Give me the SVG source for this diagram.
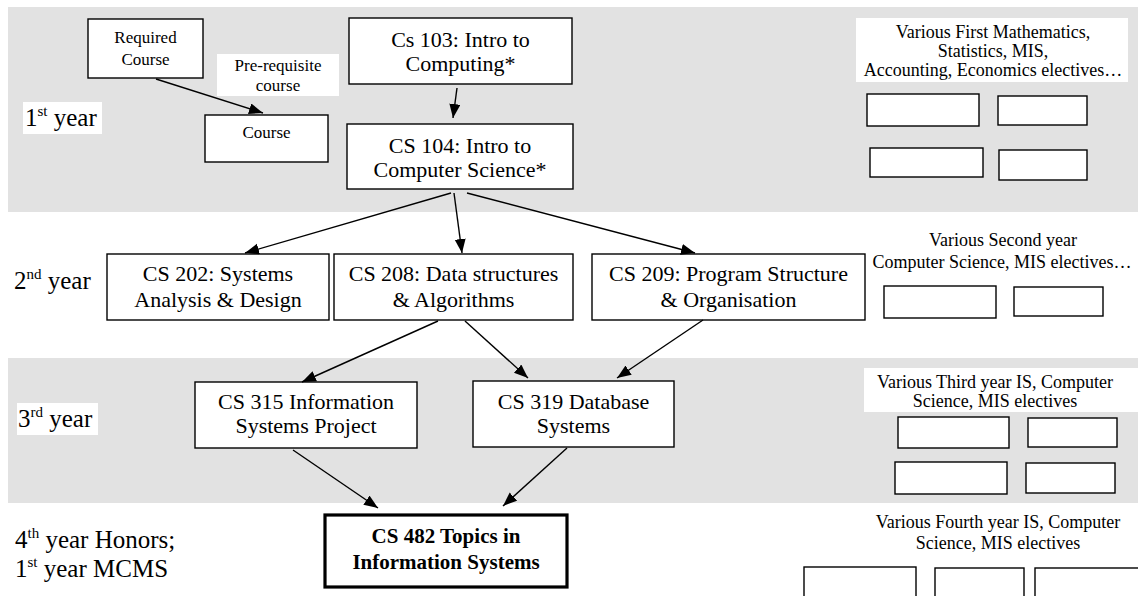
<svg xmlns="http://www.w3.org/2000/svg" width="1138" height="596" viewBox="0 0 1138 596">
<defs>
<style>
.band{fill:#e2e2e2}
.wbg{fill:#fff}
.box{fill:#fff;stroke:#000;stroke-width:1.4}
.thick{fill:#fff;stroke:#000;stroke-width:3.2}
.t{font-family:"Liberation Serif","Times New Roman",serif;fill:#000}
.n{font-size:22px;text-anchor:middle}
.s{font-size:17px;text-anchor:middle}
.h{font-size:18px;text-anchor:middle}
.b{font-size:21px;font-weight:bold;text-anchor:middle}
.y{font-size:25px}
.sup{font-size:15px}
.c{stroke:#000;stroke-width:1.4;fill:none;marker-end:url(#ah)}
</style>
<marker id="ah" markerUnits="userSpaceOnUse" markerWidth="16" markerHeight="12" refX="14" refY="5.5" orient="auto">
<path d="M0,0 L14,5.5 L0,11 z" fill="#000"/>
</marker>
</defs>

<g id="bands">
<rect class="band" x="8" y="7" width="1130" height="205"/>
<rect class="band" x="8" y="358" width="1130" height="145"/>
</g>

<g id="year-labels">
<rect class="wbg" x="23" y="102" width="79" height="32"/>
<text class="t y" x="25" y="126">1<tspan class="sup" dy="-10">st</tspan><tspan dy="10"> year</tspan></text>
<text class="t y" x="14" y="289">2<tspan class="sup" dy="-10">nd</tspan><tspan dy="10"> year</tspan></text>
<rect class="wbg" x="17" y="403" width="81" height="32"/>
<text class="t y" x="18" y="427">3<tspan class="sup" dy="-10">rd</tspan><tspan dy="10"> year</tspan></text>
<text class="t y" x="15" y="548">4<tspan class="sup" dy="-10">th</tspan><tspan dy="10"> year Honors;</tspan></text>
<text class="t y" x="15" y="577">1<tspan class="sup" dy="-10">st</tspan><tspan dy="10"> year MCMS</tspan></text>
</g>

<g id="legend-required">
<rect class="box" x="88" y="19" width="115" height="59"/>
<text class="t s" x="145.5" y="43">Required</text>
<text class="t s" x="145.5" y="65">Course</text>
</g>
<g id="legend-prereq-label">
<rect class="wbg" x="217" y="54" width="122" height="42"/>
<text class="t s" x="278" y="71">Pre-requisite</text>
<text class="t s" x="278" y="91">course</text>
</g>
<g id="legend-course">
<rect class="box" x="205" y="115" width="123" height="47"/>
<text class="t s" x="266.5" y="138">Course</text>
</g>

<g id="cs103">
<rect class="box" x="349" y="18" width="223" height="66"/>
<text class="t n" x="460.5" y="47">Cs 103: Intro to</text>
<text class="t n" x="460.5" y="71">Computing*</text>
</g>
<g id="cs104">
<rect class="box" x="347" y="124" width="226" height="65"/>
<text class="t n" x="460" y="153">CS 104: Intro to</text>
<text class="t n" x="460" y="177">Computer Science*</text>
</g>

<g id="cs202">
<rect class="box" x="107" y="254" width="222" height="66"/>
<text class="t n" x="218" y="281">CS 202: Systems</text>
<text class="t n" x="218" y="307">Analysis &amp; Design</text>
</g>
<g id="cs208">
<rect class="box" x="334" y="254" width="239" height="66"/>
<text class="t n" x="453.5" y="281">CS 208: Data structures</text>
<text class="t n" x="453.5" y="307">&amp; Algorithms</text>
</g>
<g id="cs209">
<rect class="box" x="592" y="254" width="273" height="66"/>
<text class="t n" x="728.5" y="281">CS 209: Program Structure</text>
<text class="t n" x="728.5" y="307">&amp; Organisation</text>
</g>

<g id="cs315">
<rect class="box" x="195" y="382" width="222" height="66"/>
<text class="t n" x="306" y="409">CS 315 Information</text>
<text class="t n" x="306" y="433">Systems Project</text>
</g>
<g id="cs319">
<rect class="box" x="473" y="381" width="201" height="66"/>
<text class="t n" x="573.5" y="409">CS 319 Database</text>
<text class="t n" x="573.5" y="433">Systems</text>
</g>

<g id="cs482">
<rect class="thick" x="325" y="515" width="242" height="72"/>
<text class="t b" x="446" y="543">CS 482 Topics in</text>
<text class="t b" x="446" y="569">Information Systems</text>
</g>

<g id="electives-1">
<rect class="wbg" x="856" y="18" width="272" height="64"/>
<text class="t h" x="993" y="38">Various First Mathematics,</text>
<text class="t h" x="993" y="57">Statistics, MIS,</text>
<text class="t h" x="993" y="76">Accounting, Economics electives…</text>
<rect class="box" x="867" y="94" width="112" height="32"/>
<rect class="box" x="998" y="96" width="89" height="29"/>
<rect class="box" x="870" y="148" width="113" height="29"/>
<rect class="box" x="999" y="150" width="88" height="30"/>
</g>

<g id="electives-2">
<text class="t h" x="1003" y="246">Various Second year</text>
<text class="t h" x="1002" y="268">Computer Science, MIS electives…</text>
<rect class="box" x="884" y="286" width="112" height="32"/>
<rect class="box" x="1014" y="287" width="89" height="29"/>
</g>

<g id="electives-3">
<rect class="wbg" x="864" y="368" width="274" height="44"/>
<text class="t h" x="995" y="388">Various Third year IS, Computer</text>
<text class="t h" x="995" y="407">Science, MIS electives</text>
<rect class="box" x="898" y="417" width="111" height="31"/>
<rect class="box" x="1028" y="418" width="89" height="29"/>
<rect class="box" x="895" y="462" width="112" height="32"/>
<rect class="box" x="1026" y="463" width="89" height="30"/>
</g>

<g id="electives-4">
<text class="t h" x="998" y="528">Various Fourth year IS, Computer</text>
<text class="t h" x="998" y="549">Science, MIS electives</text>
<rect class="box" x="804" y="567" width="112" height="40"/>
<rect class="box" x="935" y="568" width="89" height="40"/>
<rect class="box" x="1035" y="568" width="110" height="40"/>
</g>

<g id="connectors">
<line class="c" x1="156" y1="79" x2="263" y2="113"/>
<line class="c" x1="457" y1="88" x2="453" y2="118"/>
<line class="c" x1="451" y1="193" x2="245" y2="253"/>
<line class="c" x1="454" y1="193" x2="462" y2="253"/>
<line class="c" x1="467" y1="193" x2="695" y2="253"/>
<line class="c" x1="438" y1="321" x2="302" y2="382"/>
<line class="c" x1="465" y1="321" x2="528" y2="378"/>
<line class="c" x1="703" y1="320" x2="617" y2="378"/>
<line class="c" x1="293" y1="450" x2="378" y2="508"/>
<line class="c" x1="567" y1="448" x2="503" y2="506"/>
</g>
</svg>
